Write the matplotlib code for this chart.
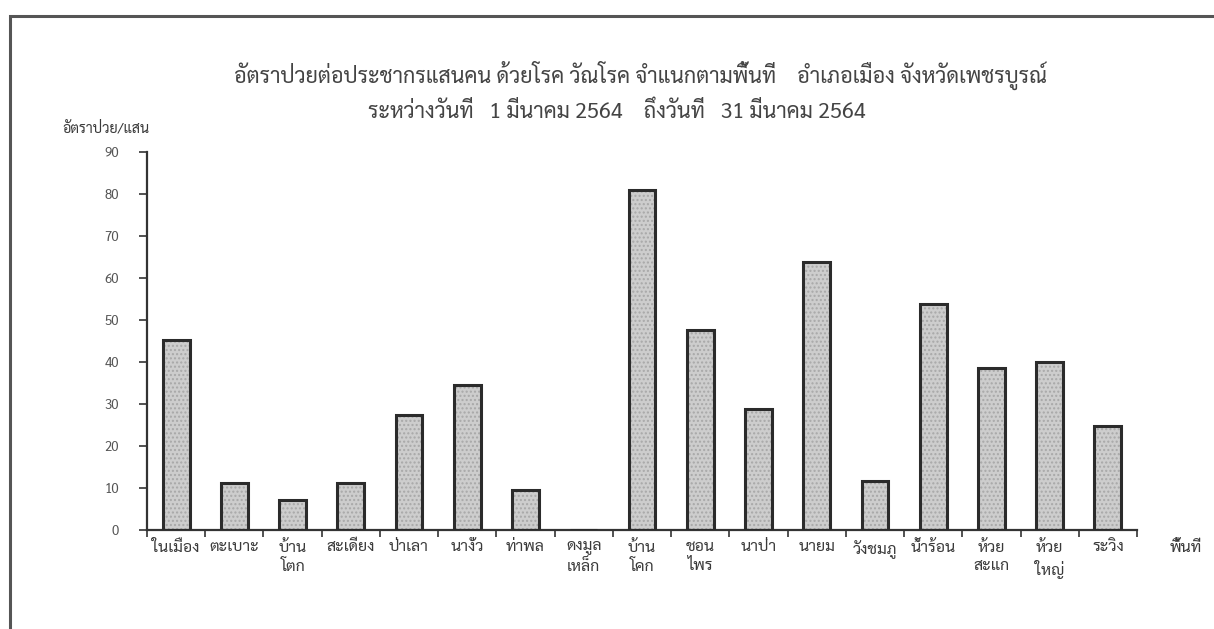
import matplotlib
matplotlib.use("Agg")
import matplotlib.pyplot as plt
from matplotlib import font_manager
from matplotlib.patches import Rectangle
import numpy as np

# --- data ---
areas = ["ในเมือง", "ตะเบาะ", "บ้าน\nโตก", "สะเดียง", "ป่าเลา", "นางั่ว", "ท่าพล",
         "ดงมูล\nเหล็ก", "บ้าน\nโคก", "ชอน\nไพร", "นาป่า", "นายม", "วังชมภู",
         "น้ำร้อน", "ห้วย\nสะแก", "ห้วย\nใหญ่", "ระวิง"]
rates = [45.3, 11.1, 7.1, 11.3, 27.3, 34.6, 9.6, 0, 80.9, 47.5, 28.8, 63.8, 11.7,
         53.7, 38.6, 39.9, 24.7]
yticks = list(range(0, 100, 10))

title1 = "อัตราป่วยต่อประชากรแสนคน ด้วยโรค วัณโรค จำแนกตามพื้นที่    อำเภอเมือง จังหวัดเพชรบูรณ์"
title2 = "ระหว่างวันที่   1 มีนาคม 2564    ถึงวันที่   31 มีนาคม 2564"
ylabel = "อัตราป่วย/แสน"
xlabel = "พื้นที่"

# pick a Thai font that is installed
names = {f.name for f in font_manager.fontManager.ttflist}
thai = "Bai Jamjuree"
for cand in ["Sarabun", "Noto Sans Thai Looped", "Noto Sans Thai", "Tahoma", "Garuda",
             "Loma", "TH Sarabun New", "Athiti"]:
    if cand in names:
        thai = cand
        break
plt.rcParams["font.family"] = [thai, "DejaVu Sans"]

TXT = "#3a3a3a"

fig = plt.figure(figsize=(12.14, 6.29), dpi=100)
ax = fig.add_axes([147 / 1214, 1 - 530 / 629, 990 / 1214, 378 / 629])

x = np.arange(len(areas))
ax.bar(x, rates, width=0.46, color="#cdcdcd", hatch="....", edgecolor="#a8a8a8",
       linewidth=0, zorder=2)
ax.bar(x, rates, width=0.46, fill=False, edgecolor="#2b2b2b", linewidth=2.2, zorder=3)

ax.set_xlim(-0.5, len(areas) - 0.5)
ax.set_ylim(0, 90)
ax.set_yticks(yticks)
ax.set_yticklabels([str(v) for v in yticks], fontsize=9.5, color="#555555")
ax.set_xticks(x)
ax.set_xticklabels(areas, fontsize=11.5, color=TXT, linespacing=1.35, va="top")
ax.set_xticks(np.arange(len(areas) + 1) - 0.5, minor=True)
ax.tick_params(axis="x", which="major", length=0, pad=7)
ax.tick_params(axis="x", which="minor", length=5, width=1.2, direction="out", color="#333333")
ax.tick_params(axis="y", length=6, width=1.2, direction="out", color="#333333", pad=14)

for s in ["top", "right"]:
    ax.spines[s].set_visible(False)
for s in ["left", "bottom"]:
    ax.spines[s].set_linewidth(1.6)
    ax.spines[s].set_color("#333333")

fig.text(641 / 1214, 1 - 75 / 629, title1, ha="center", va="center", fontsize=15.5, color="#444444")
fig.text(617 / 1214, 1 - 112 / 629, title2, ha="center", va="center", fontsize=15.5, color="#444444")
fig.text(62 / 1214, 1 - 128 / 629, ylabel, ha="left", va="center", fontsize=10.3, color=TXT)
fig.text(1186 / 1214, 1 - 548 / 629, xlabel, ha="center", va="center", fontsize=11.5, color=TXT)

# outer frame of the scanned page
fig.patches.append(Rectangle((10 / 1214, -0.1), 1.2, 1.1 - 16 / 629, transform=fig.transFigure,
                             fill=False, edgecolor="#555555", linewidth=2.2))

fig.savefig("out.png", dpi=100)
